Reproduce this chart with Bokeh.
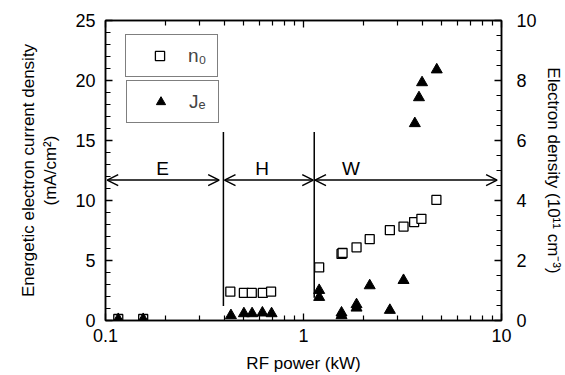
from bokeh.plotting import figure
from bokeh.models import (LogAxis, LinearAxis, Range1d, Arrow, OpenHead, Legend,
                          LegendItem, ColumnDataSource, FixedTicker)
from bokeh.core.properties import value
from bokeh.embed import file_html
from bokeh.resources import INLINE

# ---- data ----
n0_power = [0.116, 0.155, 0.427, 0.50, 0.548, 0.623, 0.686, 1.20, 1.556, 1.575, 1.853,
            2.16, 2.73, 3.20, 3.62, 3.94, 4.69]
n0 = [0.05, 0.05, 0.96, 0.92, 0.92, 0.92, 0.96, 1.77, 2.22, 2.25, 2.44,
      2.71, 3.01, 3.13, 3.28, 3.39, 4.02]

je_power = [0.116, 0.155, 0.43, 0.50, 0.55, 0.62, 0.69, 1.20, 1.20, 1.556, 1.556,
            1.853, 1.853, 2.16, 2.73, 3.20, 3.65, 3.83, 3.97, 4.71]
je = [0.1, 0.1, 0.42, 0.58, 0.58, 0.64, 0.58, 2.52, 1.94, 0.64, 0.42,
      1.33, 1.05, 2.91, 0.86, 3.35, 16.42, 18.58, 19.83, 20.9]

boundary_x = [0.394, 1.133]
boundary_y0 = [1.2, 1.9]
boundary_y1 = [15.7, 15.7]

arrow_x0 = [0.102, 0.399, 1.143]
arrow_x1 = [0.375, 1.12, 9.5]
arrow_y = [11.7, 11.7, 11.7]

regions = ["E", "H", "W"]
region_x = [0.194, 0.618, 1.735]
region_y = [12.7, 12.7, 12.7]

x_ticks = [0.1, 1, 10]
x_minor_ticks = [0.2, 0.3, 0.4, 0.5, 0.6, 0.7, 0.8, 0.9, 2, 3, 4, 5, 6, 7, 8, 9]
left_ticks = [0, 5, 10, 15, 20, 25]
left_minor_ticks = [1, 2, 3, 4, 6, 7, 8, 9, 11, 12, 13, 14, 16, 17, 18, 19, 21, 22, 23, 24]
right_ticks = [0, 2, 4, 6, 8, 10]
right_minor_ticks = [0.5, 1, 1.5, 2.5, 3, 3.5, 4.5, 5, 5.5, 6.5, 7, 7.5, 8.5, 9, 9.5]
x_tick_labels = {0.1: "0.1", 1: "1", 10: "10"}

FONT = "Liberation Sans"

p = figure(width=565, height=375, x_axis_type="log",
           x_range=Range1d(0.1, 10), y_range=Range1d(0, 25),
           output_backend="svg", toolbar_location=None,
           min_border_left=105, min_border_right=63, min_border_top=20, min_border_bottom=54)
p.extra_y_ranges = {"n": Range1d(0, 10)}
p.xgrid.visible = False
p.ygrid.visible = False
p.outline_line_color = "black"
p.outline_line_width = 1.5
p.background_fill_color = "white"
p.border_fill_color = "white"

def style_axis(ax):
    ax.axis_line_color = "black"
    ax.axis_line_width = 1.5
    ax.major_tick_in = 7
    ax.major_tick_out = 0
    ax.minor_tick_in = 5
    ax.minor_tick_out = 0
    ax.major_tick_line_width = 1.3
    ax.minor_tick_line_width = 1.2
    ax.major_label_text_font = FONT
    ax.major_label_text_font_size = "18px"
    ax.major_label_text_color = "black"
    ax.axis_label_text_font = FONT
    ax.axis_label_text_font_size = "17px"
    ax.axis_label_text_font_style = "normal"
    ax.axis_label_text_color = "black"

xax = p.xaxis[0]
style_axis(xax)
xax.ticker = FixedTicker(ticks=x_ticks, minor_ticks=x_minor_ticks)
xax.major_label_overrides = x_tick_labels
xax.axis_label = "RF power (kW)"
xax.major_label_standoff = 8
xax.axis_label_standoff = 9

yax = p.yaxis[0]
style_axis(yax)
yax.ticker = FixedTicker(ticks=left_ticks, minor_ticks=left_minor_ticks)
yax.axis_label = "Energetic electron current density\n(mA/cm²)"
yax.major_label_standoff = 10
yax.axis_label_standoff = 12

rax = LinearAxis(y_range_name="n", axis_label="Electron density (10¹¹ cm⁻³)")
style_axis(rax)
rax.ticker = FixedTicker(ticks=right_ticks, minor_ticks=right_minor_ticks)
rax.major_label_standoff = 15
rax.axis_label_standoff = 4
p.add_layout(rax, "right")

tax = LogAxis()
style_axis(tax)
tax.ticker = FixedTicker(ticks=x_ticks, minor_ticks=x_minor_ticks)
tax.major_label_overrides = {0.1: "", 1: "", 10: ""}
tax.major_label_standoff = 0
p.add_layout(tax, "above")

# boundaries
p.segment(x0=boundary_x, y0=boundary_y0, x1=boundary_x, y1=boundary_y1,
          line_color="black", line_width=1.5)

# arrows
asrc = ColumnDataSource(dict(x0=arrow_x0, x1=arrow_x1, y=arrow_y))
p.add_layout(Arrow(x_start="x0", x_end="x1", y_start="y", y_end="y", source=asrc,
                   line_color="black", line_width=1.5,
                   start=OpenHead(size=11, line_width=1.5, line_color="black"),
                   end=OpenHead(size=11, line_width=1.5, line_color="black")))

p.text(x=region_x, y=region_y, text=regions, text_align="center",
       text_baseline="middle", text_font=value(FONT), text_font_size="19px",
       text_color="black")

sq = p.scatter(n0_power, n0, y_range_name="n", marker="square", size=9,
               fill_color="white", line_color="black", line_width=1.3)
tri = p.scatter(je_power, je, marker="triangle", size=11,
                fill_color="black", line_color="black")

def make_legend(label, r, loc):
    leg = Legend(items=[LegendItem(label=label, renderers=[r])], location=loc,
                 orientation="vertical", padding=9, margin=0,
                 glyph_width=49, glyph_height=23, label_standoff=4,
                 label_text_font=FONT, label_text_font_size="19px",
                 border_line_color="black", border_line_width=1.3,
                 background_fill_color="white", background_fill_alpha=1)
    p.add_layout(leg, "center")

make_legend("n₀", sq, (20, 243))
make_legend("Jₑ", tri, (21, 197))

open("out.html", "w").write(file_html(p, INLINE))
